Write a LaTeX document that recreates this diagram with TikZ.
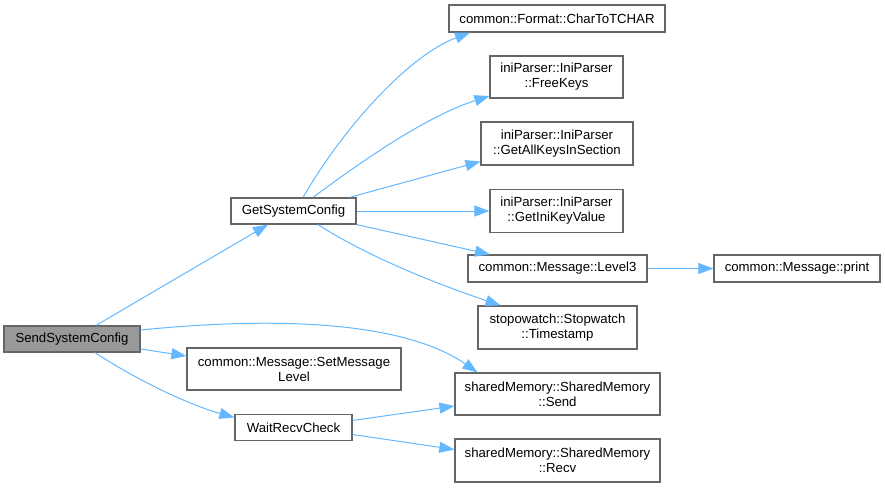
\documentclass[tikz,border=0pt]{standalone}
\usepackage{fontspec}
\setmainfont{Liberation Sans}
\usetikzlibrary{arrows.meta}
\definecolor{edgeblue}{HTML}{63B8FF}
\definecolor{boxgray}{HTML}{666666}
\definecolor{rootfill}{HTML}{999999}
\begin{document}
\begin{tikzpicture}[x=1pt, y=-1pt,
  fn/.style={draw=boxgray, line width=1.2pt, fill=white, inner sep=0pt, align=center,
    font=\fontsize{13.2}{15}\selectfont},
  root/.style={fn, fill=rootfill},
  call/.style={draw=edgeblue, line width=1pt, -{Triangle[length=15pt,width=11pt]}}]
  \useasboundingbox (0,0) rectangle (885,488);
  % 呼び出し元
  \node[root, minimum width=136pt, minimum height=26pt] (send) at (72,339) {SendSystemConfig};
  \node[fn, minimum width=125pt, minimum height=26pt] (getcfg) at (293.5,211) {GetSystemConfig};
  \node[fn, minimum width=214pt, minimum height=42pt] (setlevel) at (294,369) {common::Message::SetMessage\\Level};
  \node[fn, minimum width=117pt, minimum height=26pt] (waitrecv) at (293.5,427.5) {WaitRecvCheck};
  % 呼び出し先
  \node[fn, minimum width=216pt, minimum height=27pt] (chartotchar) at (557,18.5) {common::Format::CharToTCHAR};
  \node[fn, minimum width=133pt, minimum height=42pt] (freekeys) at (556.5,77) {iniParser::IniParser\\::FreeKeys};
  \node[fn, minimum width=152pt, minimum height=43pt] (allkeys) at (557,143.5) {iniParser::IniParser\\::GetAllKeysInSection};
  \node[fn, minimum width=133pt, minimum height=43pt] (inikey) at (556.5,211) {iniParser::IniParser\\::GetIniKeyValue};
  \node[fn, minimum width=179pt, minimum height=27pt] (level3) at (557.5,268.5) {common::Message::Level3};
  \node[fn, minimum width=166pt, minimum height=27pt] (print) at (797,268.5) {common::Message::print};
  \node[fn, minimum width=159pt, minimum height=43pt] (timestamp) at (557.5,327.5) {stopowatch::Stopwatch\\::Timestamp};
  \node[fn, minimum width=205pt, minimum height=42pt] (shmsend) at (557.5,394) {sharedMemory::SharedMemory\\::Send};
  \node[fn, minimum width=205pt, minimum height=43pt] (shmrecv) at (557.5,460.5) {sharedMemory::SharedMemory\\::Recv};
  % SendSystemConfig から
  \draw[call] ([xshift=24pt]send.north) -- ([xshift=-25.5pt]getcfg.south);
  \draw[call] ([yshift=9pt]send.east) .. controls (280,316) and (405,322) .. ([xshift=-80pt]shmsend.north);
  \draw[call] ([yshift=-10pt]send.east) -- ([yshift=13pt]setlevel.west);
  \draw[call] ([xshift=23pt]send.south) .. controls (140,382) and (190,405) .. ([yshift=10pt]waitrecv.west);
  % GetSystemConfig から
  \draw[call] ([xshift=9.5pt]getcfg.north) .. controls (345,125) and (410,55) .. ([xshift=-87pt]chartotchar.south);
  \draw[call] ([xshift=19.5pt]getcfg.north) .. controls (370,155) and (430,115) .. ([yshift=-19pt]freekeys.west);
  \draw[call] ([xshift=56pt]getcfg.north) -- ([yshift=-18pt]allkeys.west);
  \draw[call] (getcfg.east) -- (inikey.west);
  \draw[call] (getcfg.south east) -- ([xshift=-67.5pt]level3.north);
  \draw[call] ([xshift=24.5pt]getcfg.south) .. controls (370,258) and (440,285) .. ([xshift=-57pt]timestamp.north);
  \draw[call] (level3.east) -- (print.west);
  % WaitRecvCheck から
  \draw[call] ([yshift=7pt]waitrecv.east) -- ([yshift=-12pt]shmsend.west);
  \draw[call] ([yshift=-7pt]waitrecv.east) -- ([yshift=11pt]shmrecv.west);
\end{tikzpicture}
\end{document}
